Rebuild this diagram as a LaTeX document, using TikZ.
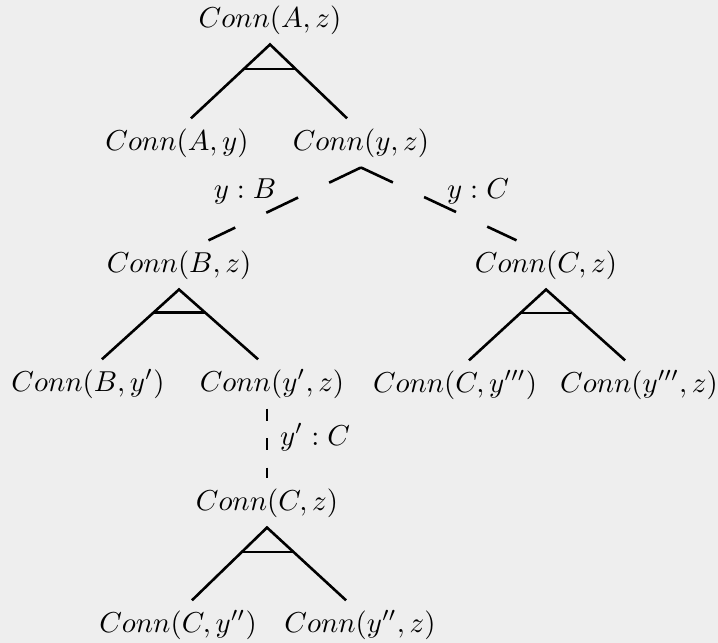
\documentclass[tikz,border=0pt]{standalone}
\usepackage{amsmath,amssymb}
\usetikzlibrary{calc,positioning}
\tikzset{%
  goal/.style={inner sep=3.33pt},
  andline/.style={line width=0.9pt},
  orline/.style={line width=0.9pt,dash pattern=on 0.43cm off 0.42cm},
  orvert/.style={line width=0.9pt,dash pattern=on 0.15cm off 0.21cm}
}

\begin{document}
\begin{tikzpicture}
% ---- colors ----
\definecolor{paper}{HTML}{EEEEEE}   % scanned page

% geometry
\def\W{8.756}   % total width
\def\H{7.841}   % total height
\def\off{0.17cm} % and-branch inset
\def\orf{0.36cm} % or-branch inset

\fill[paper] (0,0) rectangle (\W,\H);
\useasboundingbox (0,0) rectangle (\W,\H);

% ===================== goals =====================
\node[goal] (cAz)  at (3.293,7.598) {$Conn(A,z)$};
\node[goal] (cAy)  at (2.159,6.098) {$Conn(A,y)$};
\node[goal] (cyz)  at (4.402,6.098) {$Conn(y,z)$};
\node[goal] (cBz)  at (2.183,4.610) {$Conn(B,z)$};
\node[goal] (cCz)  at (6.659,4.610) {$Conn(C,z)$};
\node[goal] (cBy1) at (1.073,3.159) {$Conn(B,y')$};
\node[goal] (cy1z) at (3.317,3.159) {$Conn(y',z)$};
\node[goal] (cCy3) at (5.549,3.146) {$Conn(C,y''')$};
\node[goal] (cy3z) at (7.793,3.146) {$Conn(y''',z)$};
\node[goal] (cCz2) at (3.256,1.707) {$Conn(C,z)$};
\node[goal] (cCy2) at (2.171,0.220) {$Conn(C,y'')$};
\node[goal] (cy2z) at (4.390,0.220) {$Conn(y'',z)$};

% ===================== and-triangle macro =====================
% #1 parent, #2 left child, #3 right child
\newcommand{\andtri}[3]{
  \coordinate (#2-e) at ([xshift=\off]#2.north);
  \coordinate (#3-e) at ([xshift=-\off]#3.north);
  \draw[andline] (#2-e) -- (#1.south) -- (#3-e);
  \draw[andline] ($(#1.south)!1/3!(#2-e)$) -- ($(#1.south)!1/3!(#3-e)$);
}

\andtri{cAz}{cAy}{cyz}
\andtri{cBz}{cBy1}{cy1z}
\andtri{cCz}{cCy3}{cy3z}
\andtri{cCz2}{cCy2}{cy2z}

% ===================== or-branches =====================
\coordinate (cBz-o) at ([xshift=\orf]cBz.north);
\coordinate (cCz-o) at ([xshift=-\orf]cCz.north);
\draw[orline] (cyz.south) -- (cBz-o);
\draw[orline] (cyz.south) -- (cCz-o);
\draw[orvert] (cCz2.north |- cy1z.south) -- (cCz2.north);

% ---- branch labels ----
\node (lB)  at (2.988,5.500) {$y:B$};
\node (lC)  at (5.829,5.500) {$y:C$};
\node (lC2) at (3.841,2.512) {$y':C$};

\end{tikzpicture}
\end{document}
